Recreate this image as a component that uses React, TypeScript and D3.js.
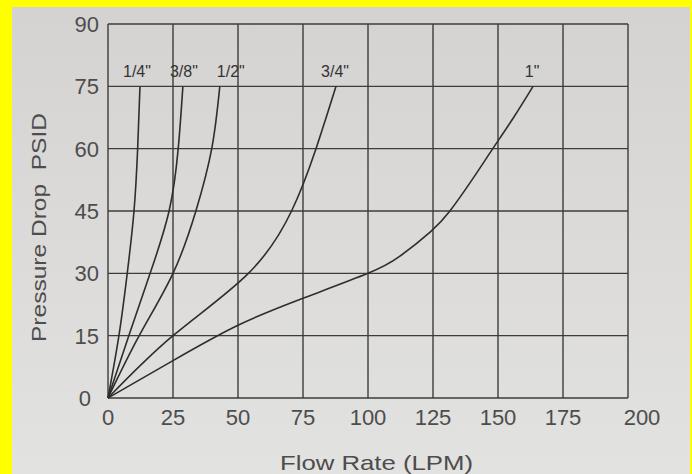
import React, { useEffect, useRef } from 'react';
import * as d3 from 'd3';

// pipe sizes and their curves: flow (LPM) vs pressure drop (PSID)
const sizes = ['1/4"', '3/8"', '1/2"', '3/4"', '1"'];
const flowQuarter = [0, 4.2, 7.4, 10, 11.4, 12.3];
const psidQuarter = [0, 15, 30, 45, 60, 75];
const flowThreeEighth = [0, 8, 16.2, 23.5, 27, 28.8];
const psidThreeEighth = [0, 15, 30, 45, 60, 75];
const flowHalf = [0, 12, 25, 33.8, 39.9, 43];
const psidHalf = [0, 15, 30, 45, 60, 75];
const flowThreeQuarter = [0, 25, 54, 70.6, 80, 87.7];
const psidThreeQuarter = [0, 15, 30, 45, 60, 75];
const flowOne = [0, 25, 50, 75, 100, 112, 124, 131.5, 140, 148, 156, 163.5];
const psidOne = [0, 9, 17.5, 24, 30, 34, 40, 45, 52.5, 60, 67.5, 75];

const xTicks = [0, 25, 50, 75, 100, 125, 150, 175, 200];
const yTicks = [0, 15, 30, 45, 60, 75, 90];

const W = 692;
const H = 474;
const font = '"Liberation Sans", Arial, sans-serif';

const App = () => {
    const svgRef = useRef<SVGSVGElement>(null);

    useEffect(() => {
        const svg = d3.select(svgRef.current);
        svg.selectAll('*').remove();

        const x = d3.scaleLinear().domain([0, 200]).range([108, 628]);
        const y = d3.scaleLinear().domain([0, 90]).range([398, 24]);

        // yellow frame + paper
        svg.append('rect').attr('width', W).attr('height', H).attr('fill', '#ffff00');
        const grad = svg.append('defs').append('linearGradient')
            .attr('id', 'paper').attr('x1', 0).attr('y1', 0).attr('x2', 0).attr('y2', 1);
        grad.append('stop').attr('offset', '0%').attr('stop-color', '#d5d3d2');
        grad.append('stop').attr('offset', '100%').attr('stop-color', '#e2e2e0');
        svg.append('rect').attr('x', 12).attr('y', 7).attr('width', 678).attr('height', H - 7)
            .attr('fill', 'url(#paper)');

        // grid
        const grid = svg.append('g').attr('stroke', '#3c3c3c').attr('stroke-width', 1.4);
        grid.selectAll('line.v').data(xTicks).enter().append('line')
            .attr('x1', d => x(d)).attr('x2', d => x(d))
            .attr('y1', y(0)).attr('y2', y(90));
        grid.selectAll('line.h').data(yTicks).enter().append('line')
            .attr('y1', d => y(d)).attr('y2', d => y(d))
            .attr('x1', x(0)).attr('x2', x(200));

        // tick labels
        svg.append('g').selectAll('text').data(xTicks).enter().append('text')
            .attr('x', d => x(d) + (d === 200 ? 14 : 0))
            .attr('y', 425)
            .attr('text-anchor', 'middle')
            .attr('font-family', font).attr('font-size', 22).attr('fill', '#4d4d4d')
            .text(d => d);
        svg.append('g').selectAll('text').data(yTicks).enter().append('text')
            .attr('x', d => (d === 0 ? 91 : 99))
            .attr('y', d => y(d) + 8)
            .attr('text-anchor', 'end')
            .attr('font-family', font).attr('font-size', 22).attr('fill', '#4d4d4d')
            .text(d => d);

        // axis titles
        svg.append('text')
            .attr('x', 280).attr('y', 470)
            .attr('font-family', font).attr('font-size', 21).attr('fill', '#4d4d4d')
            .attr('textLength', 193).attr('lengthAdjust', 'spacingAndGlyphs')
            .text('Flow Rate (LPM)');
        svg.append('text')
            .attr('transform', 'translate(46,342) rotate(-90)')
            .attr('font-family', font).attr('font-size', 20).attr('fill', '#4d4d4d')
            .attr('textLength', 229).attr('lengthAdjust', 'spacingAndGlyphs')
            .attr('xml:space', 'preserve')
            .text('Pressure Drop  PSID');

        // curves
        const series = [
            [flowQuarter, psidQuarter],
            [flowThreeEighth, psidThreeEighth],
            [flowHalf, psidHalf],
            [flowThreeQuarter, psidThreeQuarter],
            [flowOne, psidOne],
        ].map(([f, p]) => f.map((v, i) => [v, p[i]] as [number, number]));

        const line = d3.line<[number, number]>()
            .x(d => x(d[0]))
            .y(d => y(d[1]))
            .curve(d3.curveNatural);

        svg.append('g').selectAll('path').data(series).enter().append('path')
            .attr('d', d => line(d))
            .attr('fill', 'none')
            .attr('stroke', '#2e2e2e')
            .attr('stroke-width', 1.6);

        // size labels above the top of each curve
        const labelShift = [-3, 1, 11, -1, -1];
        svg.append('g').selectAll('text').data(series).enter().append('text')
            .attr('x', (d, i) => x(d[d.length - 1][0]) + labelShift[i])
            .attr('y', 77)
            .attr('text-anchor', 'middle')
            .attr('font-family', font).attr('font-size', 16).attr('fill', '#333')
            .text((d, i) => sizes[i]);
    }, []);

    return (
        <svg ref={svgRef} width={W} height={H}
            style={{ position: 'absolute', left: 0, top: 0, display: 'block' }} />
    );
};

export default App;
